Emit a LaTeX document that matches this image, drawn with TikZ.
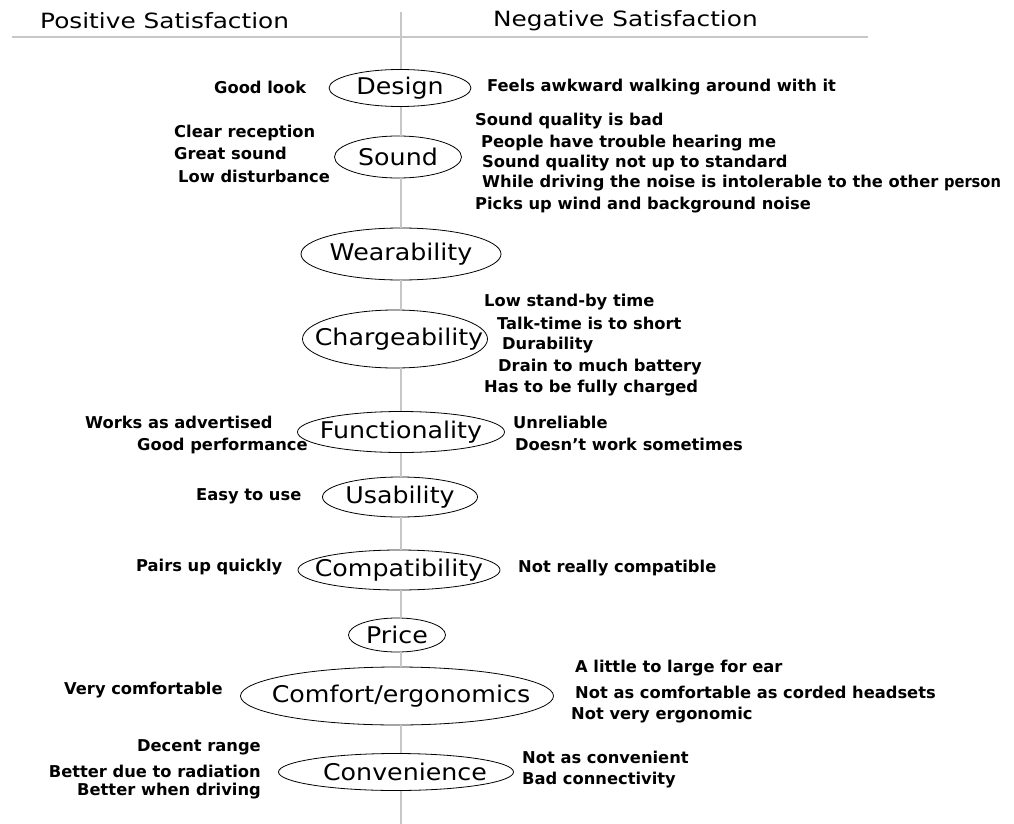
\documentclass[tikz,border=0pt]{standalone}
\usepackage{fontspec}
\setmainfont{DejaVu Sans}
\newfontfamily\headfont[FakeStretch=1.18]{DejaVu Sans}
\newfontfamily\catfont[FakeStretch=1.1]{DejaVu Sans}
\newfontfamily\condfont{DejaVu Sans Condensed}
\usetikzlibrary{shapes.geometric}

\begin{document}
\begin{tikzpicture}[x=1pt,y=-1pt,
  axis/.style={draw=black!22, line width=1.5pt},
  cat/.style={ellipse, draw=black, line width=0.8pt, fill=white, inner sep=0pt},
  cattext/.style={inner sep=0pt, font=\catfont\fontsize{23}{27}\selectfont},
  lbl/.style={anchor=west, inner sep=0pt, font=\bfseries\fontsize{16.3}{19}\selectfont},
  lblr/.style={lbl, anchor=east},
  head/.style={anchor=west, inner sep=0pt, font=\headfont\fontsize{21}{25}\selectfont}
]
\useasboundingbox (0,0) rectangle (1014,824);

% headers and rules
\node[head] (hpos) at (40,21) {Positive Satisfaction};
\node[head] (hneg) at (493,21) {Negative Satisfaction};
\coordinate (rl) at (12,37);
\coordinate (rr) at (868,37);
\draw[axis] (rl) -- (rr);

% categories on the axis (fixed outline size, name set as a centred label)
\node[cat, minimum width=142, minimum height=37, label={[cattext]center:Design}]        (design)  at (400,88)  {};
\node[cat, minimum width=127, minimum height=42, label={[cattext]center:Sound}]         (sound)   at (398,157) {};
\node[cat, minimum width=200, minimum height=52, label={[cattext]center:Wearability}]   (wear)    at (401,254) {};
\node[cat, minimum width=185, minimum height=58, label={[cattext,xshift=4]center:Chargeability}] (charge)  at (395,339) {};
\node[cat, minimum width=207, minimum height=41, label={[cattext]center:Functionality}] (func)    at (401,432) {};
\node[cat, minimum width=155, minimum height=40, label={[cattext]center:Usability}]     (usab)    at (400,497) {};
\node[cat, minimum width=202, minimum height=40, label={[cattext]center:Compatibility}] (compat)  at (399,570) {};
\node[cat, minimum width=97,  minimum height=34, label={[cattext]center:Price}]         (price)   at (397,635) {};
\node[cat, minimum width=313, minimum height=58, label={[cattext,xshift=4]center:Comfort/ergonomics}] (comfort) at (397,696) {};
\node[cat, minimum width=235, minimum height=37, label={[cattext,xshift=9]center:Convenience}]   (conv)    at (396,772) {};

\coordinate (atop) at (401,12);
\coordinate (abot) at (401,824);
\draw[axis] (atop) -- (atop |- design.north);
\draw[axis] (atop |- design.south) -- (atop |- sound.north);
\draw[axis] (atop |- sound.south) -- (atop |- wear.north);
\draw[axis] (atop |- wear.south) -- (atop |- charge.north);
\draw[axis] (atop |- charge.south) -- (atop |- func.north);
\draw[axis] (atop |- func.south) -- (atop |- usab.north);
\draw[axis] (atop |- usab.south) -- (atop |- compat.north);
\draw[axis] (atop |- compat.south) -- (atop |- price.north);
\draw[axis] (atop |- price.south) -- (atop |- comfort.north);
\draw[axis] (atop |- comfort.south) -- (atop |- conv.north);
\draw[axis] (atop |- conv.south) -- (abot);

% Design
\node[lbl] (d1) at (214,87) {Good look};
\node[lbl] (d2) at (487,87) {Feels awkward walking around with it};

% Sound
\node[lbl] (s1) at (174,133) {Clear reception};
\node[lbl] (s2) at (174,153) {Great sound};
\node[lbl] (s3) at (178,176) {Low disturbance};
\node[lbl] (s4) at (475,121) {Sound quality is bad};
\node[lbl] (s5) at (481,143) {People have trouble hearing me};
\node[lbl] (s6) at (482,163) {Sound quality not up to standard};
\node[lbl] (s7) at (482,183) {While driving the noise is intolerable to the other {\condfont\bfseries person}};
\node[lbl] (s8) at (475,205) {Picks up wind and background noise};

% Chargeability
\node[lbl] (c1) at (484,302) {Low stand-by time};
\node[lbl] (c2) at (497,323) {Talk-time is to short};
\node[lbl] (c3) at (502,345) {Durability};
\node[lbl] (c4) at (498,367) {Drain to much battery};
\node[lbl] (c5) at (484,388) {Has to be fully charged};

% Functionality
\node[lbl] (f1) at (85,422)  {Works as advertised};
\node[lbl] (f2) at (137,446) {Good performance};
\node[lbl] (f3) at (513,422) {Unreliable};
\node[lbl] (f4) at (515,444) {Doesn't work sometimes};

% Usability
\node[lbl] (u1) at (196,496) {Easy to use};

% Compatibility
\node[lbl] (p1) at (136,567) {Pairs up quickly};
\node[lbl] (p2) at (518,568) {Not really compatible};

% Comfort/ergonomics
\node[lbl] (e1) at (64,690)  {Very comfortable};
\node[lbl] (e2) at (575,668) {A little to large for ear};
\node[lbl] (e3) at (575,692) {Not as comfortable as corded headsets};
\node[lbl] (e4) at (571,715) {Not very ergonomic};

% Convenience
\node[lblr] (v1) at (261,747) {Decent range};
\node[lblr] (v2) at (261,771) {Better due to radiation};
\node[lblr] (v3) at (261,791) {Better when driving};
\node[lbl] (v4) at (522,757) {Not as convenient};
\node[lbl] (v5) at (522,780) {Bad connectivity};
\end{tikzpicture}
\end{document}
